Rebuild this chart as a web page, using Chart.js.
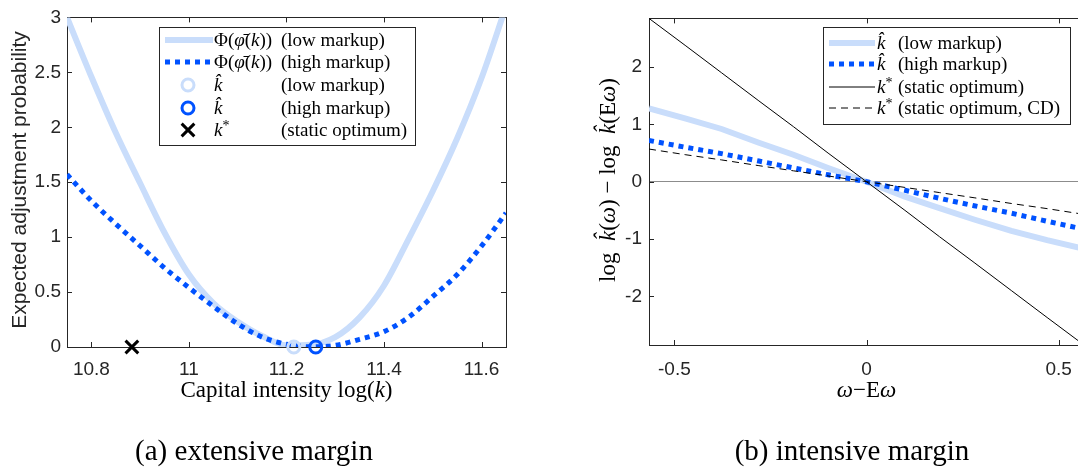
<!DOCTYPE html>
<html lang="en">
<head>
<meta charset="UTF-8">
<title>Extensive and intensive margin</title>
<script src="https://cdn.jsdelivr.net/npm/chart.js@4.4.0/dist/chart.umd.min.js"></script>
<style>
    * { margin: 0; padding: 0; box-sizing: border-box; }
    html, body { width: 1078px; height: 468px; overflow: hidden; background: #fff; }
    canvas { position: absolute; top: 0; }
    #extChart { left: 0; }
    #intChart { left: 540px; }
    .caption {
        position: absolute;
        top: 436px;
        font-family: "Liberation Serif", serif;
        font-size: 29px;
        line-height: 1;
        color: #000;
        white-space: nowrap;
        transform: translateX(-50%);
    }
</style>
</head>
<body>
<canvas id="extChart" width="540" height="468"></canvas>
<canvas id="intChart" width="560" height="468"></canvas>
<div class="caption" style="left:254px">(a) extensive margin</div>
<div class="caption" style="left:852px">(b) intensive margin</div>

<script>
// ---- panel (a): extensive margin ----
const capitalGrid = [10.75, 10.80, 10.85, 10.90, 10.95, 11.00, 11.05, 11.10, 11.15, 11.20,
                     11.25, 11.30, 11.35, 11.40, 11.45, 11.50, 11.55, 11.60, 11.65];
const probLowMarkup = [3.00, 2.46, 1.95, 1.49, 1.04, 0.66, 0.40, 0.23, 0.10, 0.015,
                       0.02, 0.09, 0.27, 0.56, 0.98, 1.42, 1.90, 2.45, 3.10];
const probHighMarkup = [1.57, 1.33, 1.12, 0.92, 0.72, 0.54, 0.37, 0.21, 0.09, 0.025,
                        0.002, 0.015, 0.07, 0.14, 0.27, 0.46, 0.66, 0.92, 1.22];
const kHatLow = 11.215;
const kHatHigh = 11.26;
const kStar = 10.883;
const extXTicks = [10.8, 11, 11.2, 11.4, 11.6];
const extXTickLabels = ['10.8', '11', '11.2', '11.4', '11.6'];
const extYTicks = [0, 0.5, 1, 1.5, 2, 2.5, 3];
const extYTickLabels = ['0', '0.5', '1', '1.5', '2', '2.5', '3'];

// ---- panel (b): intensive margin ----
const omegaGrid = [-0.566, -0.47, -0.377, -0.28, -0.19, -0.10, 0, 0.10, 0.19, 0.28, 0.377, 0.47, 0.566];
const kLowMarkup = [1.28, 1.10, 0.92, 0.68, 0.47, 0.24, 0, -0.26, -0.46, -0.66, -0.86, -1.02, -1.17];
const kHighMarkup = [0.72, 0.60, 0.49, 0.36, 0.24, 0.12, 0, -0.15, -0.29, -0.42, -0.55, -0.69, -0.83];
const kStatic = [2.85, 2.37, 1.90, 1.41, 0.96, 0.50, 0, -0.50, -0.96, -1.41, -1.90, -2.37, -2.85];
const kStaticCD = [0.57, 0.47, 0.38, 0.28, 0.19, 0.10, 0, -0.10, -0.19, -0.28, -0.38, -0.47, -0.57];
const intXTicks = [-0.5, 0, 0.5];
const intXTickLabels = ['-0.5', '0', '0.5'];
const intYTicks = [-2, -1, 0, 1, 2];
const intYTickLabels = ['-2', '-1', '0', '1', '2'];

const LIGHT = '#c9ddfb';
const BLUE = '#0052ff';
const AXIS = '#262626';
const SERIF = '"Liberation Serif", "Times New Roman", serif';
const SANS = '"Liberation Sans", Arial, sans-serif';

const pairs = (xs, ys) => xs.map((x, i) => ({ x: x, y: ys[i] }));

// text made of runs: [text, 'n' | 'i' | 's']  (normal, italic, superscript)
function runFont(st, size) {
    if (st === 's') return Math.round(size * 0.75) + 'px ' + SERIF;
    return (st === 'i' ? 'italic ' : '') + size + 'px ' + SERIF;
}
function runsWidth(ctx, parts, size) {
    let w = 0;
    parts.forEach(([t, st]) => { ctx.font = runFont(st, size); w += ctx.measureText(t).width; });
    return w;
}
function drawRuns(ctx, parts, x, y, size) {
    let cx = x;
    ctx.textBaseline = 'alphabetic';
    ctx.textAlign = 'left';
    parts.forEach(([t, st]) => {
        ctx.font = runFont(st, size);
        ctx.fillText(t, cx, st === 's' ? y - size * 0.3 : y);
        cx += ctx.measureText(t).width;
    });
}

// box with inward ticks on all four sides
const framePlugin = {
    id: 'frame',
    beforeDatasetsDraw(chart) {
        const { ctx, chartArea: a, scales: { x, y } } = chart;
        ctx.save();
        ctx.strokeStyle = AXIS;
        ctx.lineWidth = 1;
        ctx.beginPath();
        x.ticks.forEach(t => {
            const px = Math.round(x.getPixelForValue(t.value)) + 0.5;
            ctx.moveTo(px, a.bottom); ctx.lineTo(px, a.bottom - 5);
            ctx.moveTo(px, a.top); ctx.lineTo(px, a.top + 5);
        });
        y.ticks.forEach(t => {
            const py = Math.round(y.getPixelForValue(t.value)) + 0.5;
            ctx.moveTo(a.left, py); ctx.lineTo(a.left + 5, py);
            ctx.moveTo(a.right, py); ctx.lineTo(a.right - 5, py);
        });
        ctx.stroke();
        ctx.strokeRect(Math.round(a.left) + 0.5, Math.round(a.top) + 0.5,
            Math.round(a.right - a.left), Math.round(a.bottom - a.top));
        ctx.restore();
    }
};

// axis titles with italic math parts
const titlePlugin = {
    id: 'axisTitles',
    afterDraw(chart, args, opts) {
        const ctx = chart.ctx;
        ctx.save();
        ctx.fillStyle = '#000';
        const xt = opts.x;
        drawRuns(ctx, xt.parts, xt.cx - runsWidth(ctx, xt.parts, xt.size) / 2, xt.baseline, xt.size);
        const yt = opts.y;
        ctx.translate(yt.baseline, yt.cy);
        ctx.rotate(-Math.PI / 2);
        if (yt.sans) {
            ctx.font = yt.size + 'px ' + SANS;
            ctx.fillStyle = AXIS;
            ctx.textAlign = 'center';
            ctx.textBaseline = 'alphabetic';
            ctx.fillText(yt.text, 0, 0);
        } else {
            drawRuns(ctx, yt.parts, -runsWidth(ctx, yt.parts, yt.size) / 2, 0, yt.size);
        }
        ctx.restore();
    }
};

// boxed legend, symbols taken from the datasets
const legendPlugin = {
    id: 'mathLegend',
    afterDatasetsDraw(chart, args, opts) {
        const ctx = chart.ctx;
        const b = opts.box;
        ctx.save();
        ctx.fillStyle = '#fff';
        ctx.fillRect(b.x, b.y, b.w, b.h);
        ctx.strokeStyle = AXIS;
        ctx.lineWidth = 1;
        ctx.strokeRect(b.x + 0.5, b.y + 0.5, b.w, b.h);
        opts.items.forEach(item => {
            const ds = chart.data.datasets[item.ds];
            const yc = item.y;
            if (item.kind === 'line') {
                ctx.save();
                ctx.strokeStyle = ds.borderColor;
                ctx.lineWidth = ds.borderWidth;
                ctx.setLineDash(ds.borderDash || []);
                ctx.beginPath();
                ctx.moveTo(opts.lineFrom, yc);
                ctx.lineTo(opts.lineTo, yc);
                ctx.stroke();
                ctx.restore();
            } else {
                ctx.save();
                ctx.strokeStyle = ds.pointBorderColor;
                ctx.fillStyle = 'rgba(0,0,0,0)';
                ctx.lineWidth = ds.pointBorderWidth;
                Chart.helpers.drawPoint(ctx, {
                    pointStyle: ds.pointStyle, radius: ds.pointRadius,
                    borderWidth: ds.pointBorderWidth, rotation: 0
                }, opts.markerX, yc);
                ctx.restore();
            }
            ctx.fillStyle = '#000';
            drawRuns(ctx, item.math, opts.mathX, yc + 6, opts.size);
            drawRuns(ctx, [[item.label, 'n']], opts.labelX, yc + 6, opts.size);
        });
        ctx.restore();
    }
};

function scaleOptions(cfg) {
    return {
        x: {
            type: 'linear', min: cfg.xMin, max: cfg.xMax,
            grid: { display: false }, border: { display: false },
            afterBuildTicks: s => { s.ticks = cfg.xTicks.map(v => ({ value: v })); },
            afterFit: s => { s.height = cfg.xHeight; },
            ticks: {
                autoSkip: false, maxRotation: 0, padding: cfg.xPad, color: AXIS,
                font: { family: SANS, size: 19 },
                callback: (v, i) => cfg.xLabels[i]
            }
        },
        y: {
            type: 'linear', min: cfg.yMin, max: cfg.yMax,
            grid: {
                display: cfg.zeroLine, drawTicks: false, lineWidth: 1,
                color: c => (c.tick && c.tick.value === 0 ? '#8c8c8c' : 'rgba(0,0,0,0)')
            },
            border: { display: false },
            afterBuildTicks: s => { s.ticks = cfg.yTicks.map(v => ({ value: v })); },
            afterFit: s => { s.width = cfg.yWidth; },
            ticks: {
                autoSkip: false, padding: cfg.yPad, color: AXIS,
                font: { family: SANS, size: 19 },
                callback: (v, i) => cfg.yLabels[i]
            }
        }
    };
}

const commonPlugins = [framePlugin, legendPlugin, titlePlugin];

// Panel (a)
new Chart(document.getElementById('extChart'), {
    type: 'line',
    plugins: commonPlugins,
    data: {
        datasets: [
            {
                label: 'low markup', data: pairs(capitalGrid, probLowMarkup),
                borderColor: LIGHT, borderWidth: 6, pointRadius: 0,
                cubicInterpolationMode: 'monotone', order: 5
            },
            {
                label: 'high markup', data: pairs(capitalGrid, probHighMarkup),
                borderColor: BLUE, borderWidth: 5, borderDash: [5, 5], borderCapStyle: 'butt',
                pointRadius: 0, cubicInterpolationMode: 'monotone', order: 4
            },
            {
                label: 'k hat low', data: [{ x: kHatLow, y: 0 }], showLine: false,
                pointStyle: 'circle', pointRadius: 6, pointBorderWidth: 3,
                pointBorderColor: LIGHT, pointBackgroundColor: 'rgba(0,0,0,0)', clip: false, order: 3
            },
            {
                label: 'k hat high', data: [{ x: kHatHigh, y: 0 }], showLine: false,
                pointStyle: 'circle', pointRadius: 6, pointBorderWidth: 3,
                pointBorderColor: BLUE, pointBackgroundColor: 'rgba(0,0,0,0)', clip: false, order: 2
            },
            {
                label: 'k star', data: [{ x: kStar, y: 0 }], showLine: false,
                pointStyle: 'crossRot', pointRadius: 9, pointBorderWidth: 3,
                pointBorderColor: '#000', clip: false, order: 1
            }
        ]
    },
    options: {
        responsive: false,
        animation: false,
        events: [],
        layout: { padding: { top: 13, right: 34, left: 0, bottom: 0 } },
        scales: scaleOptions({
            xMin: 10.75, xMax: 11.65, xTicks: extXTicks, xLabels: extXTickLabels, xHeight: 121, xPad: 3,
            yMin: 0, yMax: 3, yTicks: extYTicks, yLabels: extYTickLabels, yWidth: 67, yPad: 6,
            zeroLine: false
        }),
        plugins: {
            legend: { display: false },
            tooltip: { enabled: false },
            mathLegend: {
                box: { x: 159, y: 27, w: 256, h: 118 },
                lineFrom: 165, lineTo: 213, markerX: 188, mathX: 214, labelX: 281, size: 19,
                items: [
                    { ds: 0, kind: 'line', y: 40, math: [['Φ(', 'n'], ['φ\u0304', 'i'], ['(', 'n'], ['k', 'i'], ['))', 'n']], label: '(low markup)' },
                    { ds: 1, kind: 'line', y: 62, math: [['Φ(', 'n'], ['φ\u0304', 'i'], ['(', 'n'], ['k', 'i'], ['))', 'n']], label: '(high markup)' },
                    { ds: 2, kind: 'point', y: 85, math: [['k\u0302', 'i']], label: '(low markup)' },
                    { ds: 3, kind: 'point', y: 108, math: [['k\u0302', 'i']], label: '(high markup)' },
                    { ds: 4, kind: 'point', y: 130, math: [['k', 'i'], ['*', 's']], label: '(static optimum)' }
                ]
            },
            axisTitles: {
                x: { parts: [['Capital intensity log(', 'n'], ['k', 'i'], [')', 'n']], cx: 286.5, baseline: 397, size: 23 },
                y: { sans: true, text: 'Expected adjustment probability', cy: 180, baseline: 25.5, size: 21 }
            }
        }
    }
});

// Panel (b)
new Chart(document.getElementById('intChart'), {
    type: 'line',
    plugins: commonPlugins,
    data: {
        datasets: [
            {
                label: 'low markup', data: pairs(omegaGrid, kLowMarkup),
                borderColor: LIGHT, borderWidth: 6, pointRadius: 0, order: 4
            },
            {
                label: 'high markup', data: pairs(omegaGrid, kHighMarkup),
                borderColor: BLUE, borderWidth: 5, borderDash: [5, 5], borderCapStyle: 'butt',
                pointRadius: 0, order: 3
            },
            {
                label: 'static optimum', data: pairs(omegaGrid, kStatic),
                borderColor: '#000', borderWidth: 1, pointRadius: 0, order: 2
            },
            {
                label: 'static optimum, CD', data: pairs(omegaGrid, kStaticCD),
                borderColor: '#000', borderWidth: 1, borderDash: [7, 5], pointRadius: 0, order: 1
            }
        ]
    },
    options: {
        responsive: false,
        animation: false,
        events: [],
        layout: { padding: { top: 15, right: 16, left: 0, bottom: 0 } },
        scales: scaleOptions({
            xMin: -0.566, xMax: 0.566, xTicks: intXTicks, xLabels: intXTickLabels, xHeight: 123, xPad: 5,
            yMin: -2.85, yMax: 2.85, yTicks: intYTicks, yLabels: intYTickLabels, yWidth: 109, yPad: 7,
            zeroLine: true
        }),
        plugins: {
            legend: { display: false },
            tooltip: { enabled: false },
            mathLegend: {
                box: { x: 283, y: 27, w: 247, h: 97 },
                lineFrom: 289, lineTo: 335, markerX: 312, mathX: 337, labelX: 358, size: 19,
                items: [
                    { ds: 0, kind: 'line', y: 43, math: [['k\u0302', 'i']], label: '(low markup)' },
                    { ds: 1, kind: 'line', y: 64, math: [['k\u0302', 'i']], label: '(high markup)' },
                    { ds: 2, kind: 'line', y: 87, math: [['k', 'i'], ['*', 's']], label: '(static optimum)' },
                    { ds: 3, kind: 'line', y: 108, math: [['k', 'i'], ['*', 's']], label: '(static optimum, CD)' }
                ]
            },
            axisTitles: {
                x: { parts: [['ω', 'i'], ['−E', 'n'], ['ω', 'i']], cx: 326.5, baseline: 397, size: 23 },
                y: {
                    parts: [['log  ', 'n'], ['k\u0302', 'i'], ['(', 'n'], ['ω', 'i'], [') − log  ', 'n'],
                            ['k\u0302', 'i'], ['(E', 'n'], ['ω', 'i'], [')', 'n']],
                    cy: 180, baseline: 75, size: 23
                }
            }
        }
    }
});
</script>
</body>
</html>
